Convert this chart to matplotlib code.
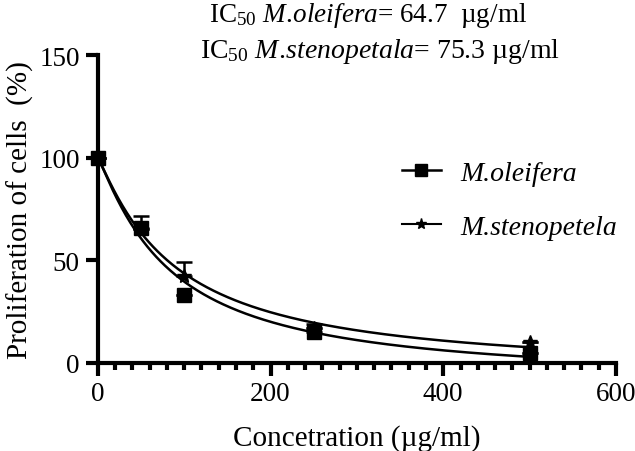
import numpy as np
import matplotlib
matplotlib.use('Agg')
from matplotlib import pyplot as plt
from matplotlib.ticker import MultipleLocator

plt.rcParams['font.family'] = ['Liberation Serif', 'DejaVu Serif']
plt.rcParams['mathtext.fontset'] = 'custom'
plt.rcParams['mathtext.rm'] = 'Liberation Serif'
plt.rcParams['mathtext.it'] = 'Liberation Serif:italic'

# measured points
conc = [0, 50, 100, 250, 500]
oleifera = [100, 65.7, 33, 15, 5]
oleifera_err = [0, 6, 0, 4, 0]
stenopetala = [100, 65, 42.3, 17, 10]
stenopetala_err = [0, 0, 7, 0, 0]

# fitted curve parameters (bottom, ic, hill)
fit_oleifera = (-10, 84, 1.13)
fit_stenopetala = (-6, 89, 1.11)

def curve(x, p):
    b, c, h = p
    return b + (100 - b) / (1 + (x / c) ** h)

fig = plt.figure(figsize=(6.35, 4.52), dpi=100)
ax = fig.add_axes([0.154, 0.195, 0.816, 0.681])

xs = np.linspace(0, 500, 400)
ax.plot(xs, curve(xs, fit_oleifera), color='black', lw=1.8, clip_on=False)
ax.plot(xs, curve(xs, fit_stenopetala), color='black', lw=1.8, clip_on=False)

ax.errorbar(conc, stenopetala, yerr=[np.zeros(5), stenopetala_err], fmt='none',
            ecolor='black', elinewidth=1.8, capsize=6, capthick=1.8, clip_on=False)
ax.errorbar(conc, oleifera, yerr=[np.zeros(5), oleifera_err], fmt='none',
            ecolor='black', elinewidth=1.8, capsize=6, capthick=1.8, clip_on=False)
ax.plot(conc, stenopetala, ls='none', marker='*', ms=10, color='black', clip_on=False, zorder=4)
ax.plot(conc, oleifera, ls='none', marker='s', ms=10, color='black', clip_on=False, zorder=5)

# legend handles
ax.plot([], [], color='black', lw=1.8, marker='s', ms=8, label='M.oleifera')
ax.plot([], [], color='black', lw=1.5, marker='*', ms=8, label='M.stenopetela')
leg = ax.legend(loc='center left', bbox_to_anchor=(402 / 635, 0.555),
                bbox_transform=fig.transFigure, frameon=False,
                prop={'style': 'italic', 'size': 20}, handlelength=1.4,
                labelspacing=1.05, handletextpad=0.7, borderpad=0, borderaxespad=0)

ax.set_xlim(0, 600)
ax.set_ylim(0, 150)
ax.xaxis.set_major_locator(MultipleLocator(200))
ax.xaxis.set_minor_locator(MultipleLocator(20))
ax.yaxis.set_major_locator(MultipleLocator(50))
for s in ['top', 'right']:
    ax.spines[s].set_visible(False)
for s in ['left', 'bottom']:
    ax.spines[s].set_linewidth(3)
ax.tick_params(which='major', direction='out', length=9, width=3, labelsize=19.5, pad=4)
ax.tick_params(which='minor', direction='out', length=5, width=3)

ax.set_xlabel('Concetration (µg/ml)', fontsize=21, labelpad=13)
ax.set_ylabel('Proliferation of cells  (%)', fontsize=21, labelpad=4)

fig.text(209 / 635, 0.952, r'IC$_{50}$ $\mathit{M.\!oleifera}$= 64.7  µg/ml', ha='left', va='baseline', fontsize=19.5)
fig.text(200 / 635, 0.872, r'IC$_{50}$ $\mathit{M.\!stenopetala}$= 75.3 µg/ml', ha='left', va='baseline', fontsize=20)

fig.savefig('out.png', dpi=100)
